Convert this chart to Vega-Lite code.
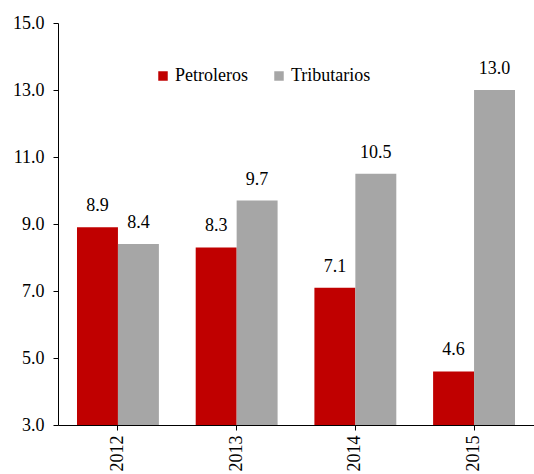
{
  "$schema": "https://vega.github.io/schema/vega-lite/v6.json",
  "width": 476,
  "height": 402,
  "autosize": {"type": "none"},
  "padding": {"left": 58, "top": 23, "right": 0, "bottom": 49},
  "background": "white",
  "config": {
    "view": {"stroke": null},
    "font": "'Liberation Serif', 'DejaVu Serif', serif"
  },
  "data": {
    "values": [
      {"year": "2012", "serie": "Petroleros", "value": 8.9},
      {"year": "2012", "serie": "Tributarios", "value": 8.4},
      {"year": "2013", "serie": "Petroleros", "value": 8.3},
      {"year": "2013", "serie": "Tributarios", "value": 9.7},
      {"year": "2014", "serie": "Petroleros", "value": 7.1},
      {"year": "2014", "serie": "Tributarios", "value": 10.5},
      {"year": "2015", "serie": "Petroleros", "value": 4.6},
      {"year": "2015", "serie": "Tributarios", "value": 13.0}
    ]
  },
  "encoding": {
    "x": {
      "field": "year", "type": "nominal",
      "scale": {"paddingInner": 0.31, "paddingOuter": 0.16},
      "axis": {
        "title": null, "labelAngle": 270, "labelFontSize": 18, "labelColor": "black",
        "labelFont": "'Liberation Serif', 'DejaVu Serif', serif",
        "domainColor": "black", "tickColor": "black", "tickSize": 5, "labelPadding": 5,
        "labelBaseline": "middle", "labelAlign": "right"
      }
    },
    "xOffset": {"field": "serie", "type": "nominal"},
    "y": {
      "field": "value", "type": "quantitative",
      "scale": {"domain": [3, 15], "nice": false, "zero": false},
      "axis": {
        "title": null, "values": [3, 5, 7, 9, 11, 13, 15], "format": ".1f",
        "grid": false, "labelFontSize": 18, "labelColor": "black",
        "labelFont": "'Liberation Serif', 'DejaVu Serif', serif",
        "domainColor": "black", "tickColor": "black", "tickSize": 5, "labelPadding": 9
      }
    }
  },
  "layer": [
    {
      "mark": {"type": "bar", "clip": true},
      "encoding": {
        "y2": {"datum": 3},
        "color": {
          "field": "serie", "type": "nominal",
          "scale": {"domain": ["Petroleros", "Tributarios"], "range": ["#C00000", "#A6A6A6"]},
          "legend": {
            "title": null, "orient": "none", "legendX": 96, "legendY": 44,
            "direction": "horizontal", "symbolType": "square", "symbolSize": 90,
            "symbolStrokeWidth": 0, "labelFontSize": 18, "labelColor": "black",
            "labelFont": "'Liberation Serif', 'DejaVu Serif', serif",
            "columnPadding": 22, "labelOffset": 3
          }
        }
      }
    },
    {
      "mark": {"type": "text", "dy": -16, "fontSize": 18, "color": "black", "baseline": "alphabetic", "font": "'Liberation Serif', 'DejaVu Serif', serif"},
      "encoding": {
        "text": {"field": "value", "type": "quantitative", "format": ".1f"}
      }
    }
  ]
}
